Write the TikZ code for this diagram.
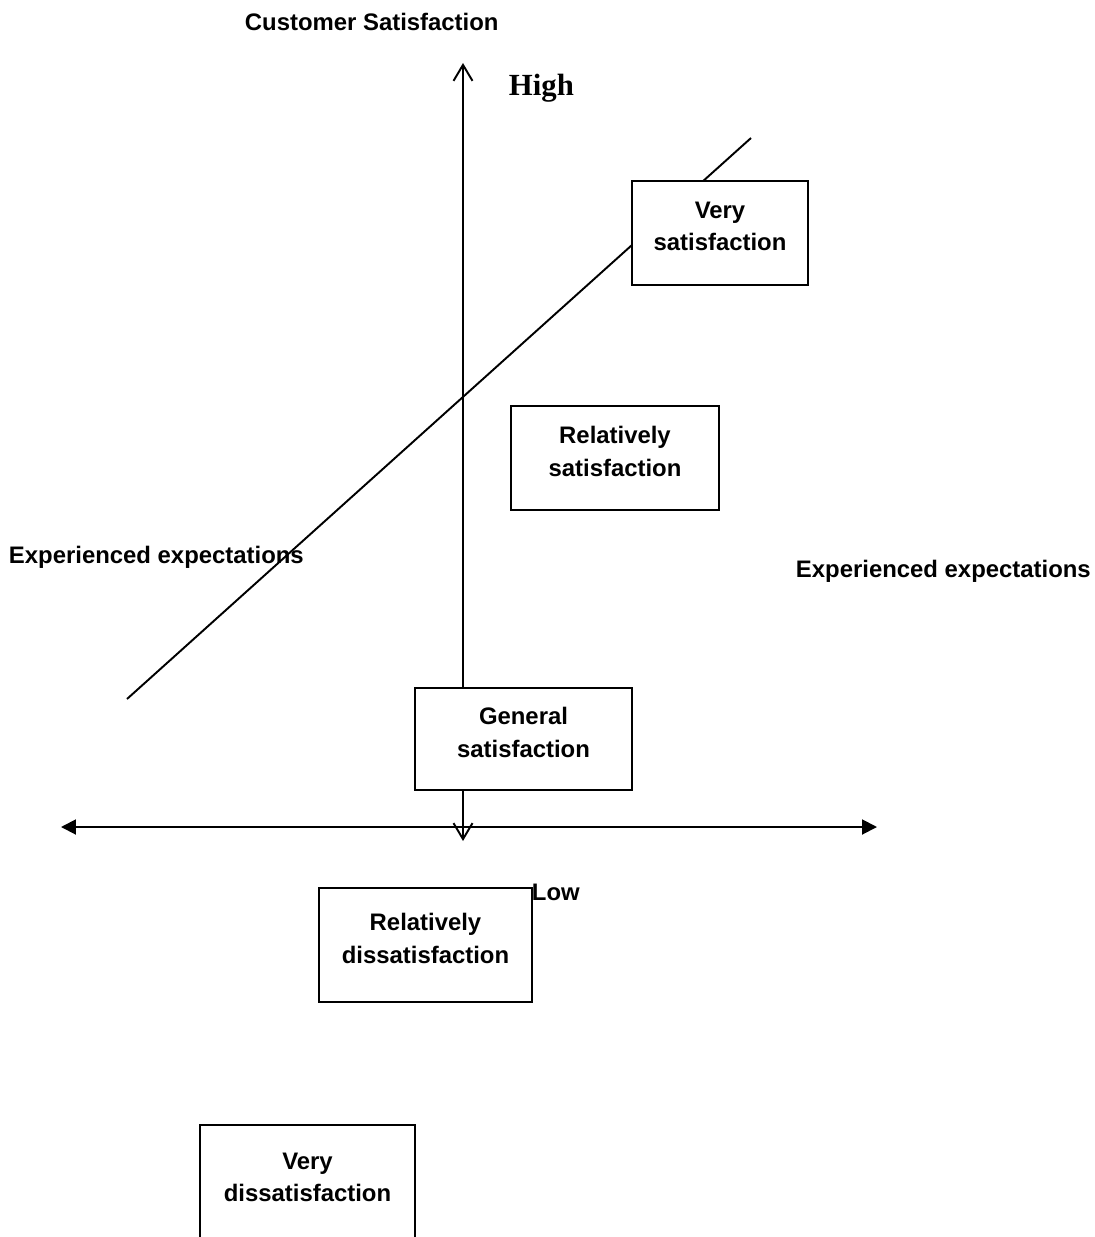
\documentclass[tikz,border=0pt]{standalone}
\usepackage{fontspec}
\setmainfont{Liberation Sans}
\newfontfamily\highfont{Liberation Serif}
\usetikzlibrary{arrows.meta}
\tikzset{
  satbox/.style={draw, fill=white, align=center, inner sep=0pt, text depth=0.26cm,
    font=\bfseries\fontsize{13.6}{18.5}\selectfont},
  axislabel/.style={inner sep=0pt, anchor=base west,
    font=\bfseries\fontsize{13.6}{16}\selectfont},
}
\begin{document}
\begin{tikzpicture}[x=0.02cm, y=-0.02cm, line width=1.1pt]
  \useasboundingbox (0,0) rectangle (1095,1237);
  \clip (0,0) rectangle (1095,1237);
  % axes and the diagonal
  \coordinate (ytop) at (463,63);
  \coordinate (ybot) at (463,841);
  \coordinate (xleft) at (61,827);
  \coordinate (xright) at (877,827);
  \coordinate (diaglo) at (127,699);
  \coordinate (diaghi) at (751,138);
  \draw[{Straight Barb[length=0.32cm,width=0.38cm]}-{Straight Barb[length=0.32cm,width=0.38cm]}]
    (ytop) -- (ybot);
  \draw[{Triangle[length=0.3cm,width=0.3cm]}-{Triangle[length=0.3cm,width=0.3cm]}]
    (xleft) -- (xright);
  \draw (diaglo) -- (diaghi);
  % boxes
  \node[satbox, minimum width=3.52cm, minimum height=2.08cm] (vsat) at (720,233) {Very\\satisfaction};
  \node[satbox, minimum width=4.16cm, minimum height=2.08cm] (rsat) at (615,458) {Relatively\\satisfaction};
  \node[satbox, minimum width=4.34cm, minimum height=2.04cm] (gsat) at (523.5,739) {General\\satisfaction};
  \node[satbox, minimum width=4.26cm, minimum height=2.28cm] (rdis) at (425.5,945) {Relatively\\dissatisfaction};
  \node[satbox, minimum width=4.30cm, minimum height=2.36cm] (vdis) at (307.5,1184) {Very\\dissatisfaction};
  % labels
  \node[axislabel] (title) at (244,31) {Customer Satisfaction};
  \node[inner sep=0pt, anchor=base west, font=\highfont\bfseries\fontsize{17.5}{20}\selectfont] (high) at (508,95) {High};
  \node[axislabel] (low) at (531,900) {Low};
  \node[axislabel] (expleft) at (8,563) {Experienced expectations};
  \node[axislabel] (expright) at (795,577) {Experienced expectations};
\end{tikzpicture}
\end{document}
